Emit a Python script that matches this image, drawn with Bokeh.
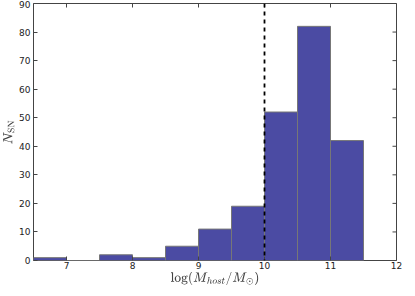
from math import pi
from bokeh.plotting import figure
from bokeh.models import Range1d, Span, FixedTicker
from bokeh.embed import file_html
from bokeh.resources import INLINE

bin_left = [6.5, 7.0, 7.5, 8.0, 8.5, 9.0, 9.5, 10.0, 10.5, 11.0]
bin_right = [7.0, 7.5, 8.0, 8.5, 9.0, 9.5, 10.0, 10.5, 11.0, 11.5]
counts = [1, 0, 2, 1, 5, 11, 19, 52, 82, 42]
x_ticks = [7, 8, 9, 10, 11, 12]
y_ticks = [0, 10, 20, 30, 40, 50, 60, 70, 80, 90]
cut = 10.0
x_lo, x_hi = 6.5, 12
y_lo, y_hi = 0, 90

p = figure(width=403, height=288, output_backend="svg", toolbar_location=None,
           x_range=Range1d(x_lo, x_hi), y_range=Range1d(y_lo, y_hi),
           min_border_top=3, min_border_right=7, min_border_left=0, min_border_bottom=0)
p.grid.visible = False
p.outline_line_color = "#444444"
p.outline_line_width = 1

p.quad(left=bin_left, right=bin_right, bottom=0, top=counts,
       fill_color="#4b4ba3", line_color="#777777", line_width=1)

p.add_layout(Span(location=cut, dimension="height", line_color="black",
                  line_dash="4 4", line_width=1.8))

# inward tick marks on the top and right frame edges
p.scatter(x=x_ticks, y=[y_hi] * len(x_ticks), marker="dash", size=8, angle=pi / 2,
          line_color="#444444", line_width=1)
p.scatter(x=[x_hi] * len(y_ticks), y=y_ticks, marker="dash", size=8, angle=0,
          line_color="#444444", line_width=1)

font = "DejaVu Sans"
for ax in [p.xaxis[0], p.yaxis[0]]:
    ax.major_tick_in = 4
    ax.major_tick_out = 0
    ax.minor_tick_line_color = None
    ax.axis_line_color = None
    ax.major_label_text_font = font
    ax.major_label_text_font_size = "9px"
    ax.major_label_text_color = "#222222"
    ax.major_tick_line_color = "#444444"
    ax.axis_label_text_font_style = "normal"
    ax.axis_label_text_font_size = "11px"
p.xaxis[0].ticker = FixedTicker(ticks=x_ticks)
p.yaxis[0].ticker = FixedTicker(ticks=y_ticks)
p.xaxis[0].major_label_standoff = 1
p.yaxis[0].major_label_standoff = 3
p.xaxis[0].axis_label_standoff = 0
p.yaxis[0].axis_label_standoff = 1
p.xaxis[0].axis_label = r"$$\log(M_{host}/M_{\odot})$$"
p.yaxis[0].axis_label = r"$$N_{\rm SN}$$"

open("out.html", "w").write(file_html(p, INLINE))
